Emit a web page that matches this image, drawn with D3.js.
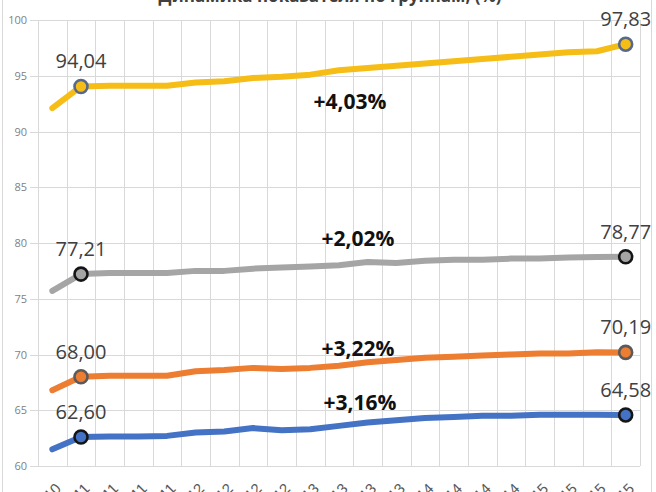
<!DOCTYPE html>
<html>
<head>
<meta charset="utf-8">
<script src="https://cdn.jsdelivr.net/npm/d3@7"></script>
<style>
  body { margin: 0; background: #fff; }
  svg { display: block; font-family: "Open Sans", "Liberation Sans", sans-serif; }
</style>
</head>
<body>
<div id="chart"></div>
<script>
// Quarter labels (only their tops show under the plot)
const quarters = ['IV кв. 2010',
  'I кв. 2011', 'II кв. 2011', 'III кв. 2011', 'IV кв. 2011',
  'I кв. 2012', 'II кв. 2012', 'III кв. 2012', 'IV кв. 2012',
  'I кв. 2013', 'II кв. 2013', 'III кв. 2013', 'IV кв. 2013',
  'I кв. 2014', 'II кв. 2014', 'III кв. 2014', 'IV кв. 2014',
  'I кв. 2015', 'II кв. 2015', 'III кв. 2015', 'IV кв. 2015'];

const yellowValues = [92.1, 94.04, 94.1, 94.1, 94.1, 94.4, 94.5, 94.8, 94.9, 95.1, 95.5,
  95.7, 95.9, 96.1, 96.3, 96.5, 96.7, 96.9, 97.1, 97.2, 97.83];
const greyValues = [75.7, 77.21, 77.3, 77.3, 77.3, 77.5, 77.5, 77.7, 77.8, 77.9, 78.0,
  78.3, 78.2, 78.4, 78.5, 78.5, 78.6, 78.6, 78.7, 78.75, 78.77];
const orangeValues = [66.8, 68.0, 68.1, 68.1, 68.1, 68.5, 68.6, 68.8, 68.7, 68.8, 69.0,
  69.3, 69.5, 69.7, 69.8, 69.9, 70.0, 70.1, 70.1, 70.2, 70.19];
const blueValues = [61.5, 62.6, 62.65, 62.65, 62.7, 63.0, 63.1, 63.4, 63.2, 63.3, 63.6,
  63.9, 64.1, 64.3, 64.4, 64.5, 64.5, 64.6, 64.6, 64.6, 64.58];

const growthLabels = ['+4,03%', '+2,02%', '+3,22%', '+3,16%'];
const yTicks = [60, 65, 70, 75, 80, 85, 90, 95, 100];

const series = [
  { values: yellowValues, color: '#f6bd16', marker: '#56698c', growth: growthLabels[0], dy: 39, dx: 11 },
  { values: greyValues, color: '#a5a5a5', marker: '#151515', growth: growthLabels[1], dy: -19, dx: 19 },
  { values: orangeValues, color: '#ed7d31', marker: '#5a5a5a', growth: growthLabels[2], dy: -10, dx: 19 },
  { values: blueValues, color: '#4472c4', marker: '#151515', growth: growthLabels[3], dy: -16, dx: 21 }
];

const W = 656, H = 492;
const margin = { top: 20, right: 16, bottom: 26, left: 38 };

const svg = d3.select('#chart').append('svg')
  .attr('width', W).attr('height', H);

// faint chart frame
svg.append('rect')
  .attr('x', 2.5).attr('y', -5).attr('width', 649).attr('height', H + 10)
  .attr('fill', 'none').attr('stroke', '#d9d9d9');

// title, cut off by the top edge as in the source
svg.append('text')
  .attr('x', 330).attr('y', 2)
  .attr('text-anchor', 'middle')
  .attr('font-size', 17).attr('font-weight', 'bold').attr('fill', '#404040')
  .text('Динамика показателя по группам, (%)');

const x = d3.scaleBand()
  .domain(d3.range(quarters.length))
  .range([margin.left, W - margin.right]);

const y = d3.scaleLinear()
  .domain([60, 100])
  .range([H - margin.bottom, margin.top]);

const g = svg.append('g');

// horizontal gridlines
g.selectAll('.hgrid')
  .data(yTicks)
  .enter()
  .append('line')
  .attr('x1', margin.left - 8).attr('x2', W - margin.right)
  .attr('y1', d => Math.round(y(d)) + 0.5).attr('y2', d => Math.round(y(d)) + 0.5)
  .attr('stroke', '#d9d9d9');

// vertical gridlines on category edges
const edges = d3.range(quarters.length + 1).map(i => i < quarters.length ? x(i) : x.range()[1]);
g.selectAll('.vgrid')
  .data(edges)
  .enter()
  .append('line')
  .attr('x1', d => Math.round(d) + 0.5).attr('x2', d => Math.round(d) + 0.5)
  .attr('y1', y(100)).attr('y2', y(60))
  .attr('stroke', '#d9d9d9');

// y axis labels
const yAxis = d3.axisLeft(y).tickValues(yTicks).tickSize(0).tickPadding(10);
const ya = svg.append('g')
  .attr('transform', `translate(${margin.left - 1},0)`)
  .call(yAxis);
ya.select('.domain').remove();
ya.selectAll('text').attr('font-size', 11).attr('fill', '#7f7f7f')
  .attr('font-family', '"Open Sans", sans-serif');

// x axis labels, rotated
const xAxis = d3.axisBottom(x).tickFormat(i => quarters[i]).tickSize(0).tickPadding(0);
const xa = svg.append('g')
  .attr('transform', `translate(0,${y(60) + 14})`)
  .call(xAxis);
xa.select('.domain').remove();
xa.selectAll('text')
  .attr('font-size', 15).attr('fill', '#595959')
  .attr('text-anchor', 'end')
  .attr('dy', '0.9em')
  .attr('transform', 'rotate(-45)');

const line = d3.line()
  .x((d, i) => x(i) + x.bandwidth() / 2)
  .y(d => y(d));

series.forEach(s => {
  g.append('path')
    .datum(s.values)
    .attr('d', line)
    .attr('fill', 'none')
    .attr('stroke', s.color)
    .attr('stroke-width', 6)
    .attr('stroke-linecap', 'round')
    .attr('stroke-linejoin', 'round');

  const last = s.values.length - 1;
  const marked = [1, last];

  g.selectAll(null)
    .data(marked)
    .enter()
    .append('circle')
    .attr('cx', i => x(i) + x.bandwidth() / 2)
    .attr('cy', i => y(s.values[i]))
    .attr('r', 6.5)
    .attr('fill', s.color)
    .attr('stroke', s.marker)
    .attr('stroke-width', 2.6);

  g.selectAll(null)
    .data(marked)
    .enter()
    .append('text')
    .attr('x', i => x(i) + x.bandwidth() / 2)
    .attr('y', i => y(s.values[i]) - 18)
    .attr('text-anchor', 'middle')
    .attr('font-size', 20)
    .attr('fill', '#404040')
    .text(i => s.values[i].toFixed(2).replace('.', ','));

  // growth annotation near the middle of the line
  const mid = 10;
  g.append('text')
    .attr('x', x(mid) + x.bandwidth() / 2 + s.dx)
    .attr('y', y(s.values[mid]) + s.dy)
    .attr('text-anchor', 'middle')
    .attr('font-size', 21)
    .attr('font-weight', 'bold')
    .attr('fill', '#111')
    .text(s.growth);
});
</script>
</body>
</html>
